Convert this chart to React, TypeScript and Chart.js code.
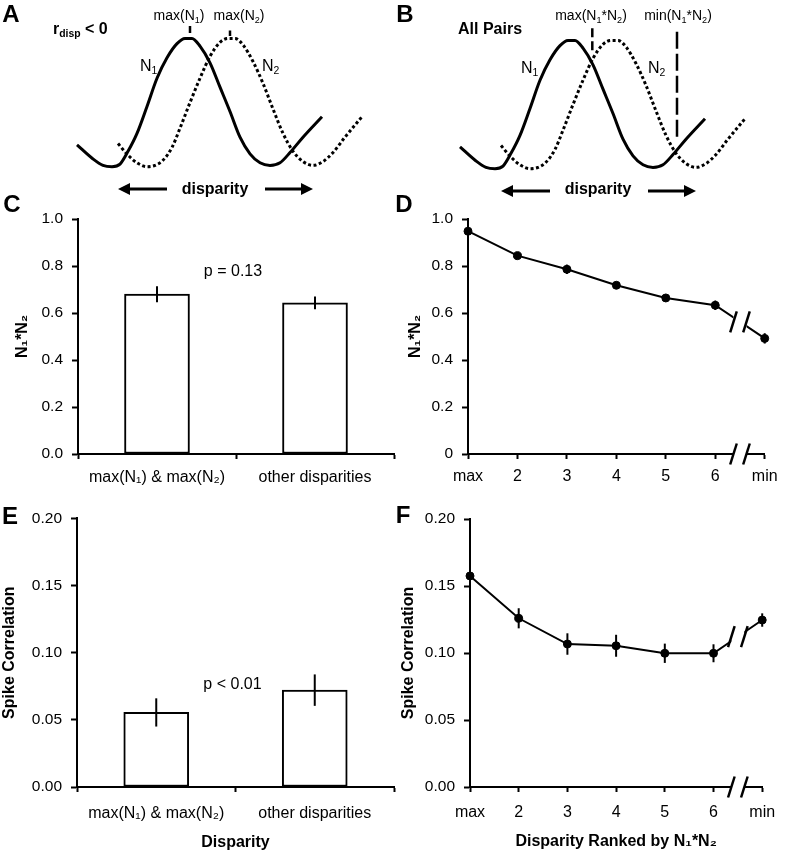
import React, { useEffect, useRef } from 'react';
import { Chart, registerables } from 'chart.js';

Chart.register(...registerables);

const FONT = '"Liberation Sans", Arial, Helvetica, sans-serif';
Chart.defaults.font.family = FONT;
Chart.defaults.color = '#000';

// ---------- Panels A & B: schematic tuning curves (disparity, normalized response) ----------
const n1Disparity = [-1.23, -1.07, -0.97, -0.88, -0.80, -0.72, -0.63, -0.53, -0.43, -0.33, -0.23, -0.15, -0.08, 0.00, 0.10, 0.20, 0.30, 0.40, 0.50, 0.60, 0.70, 0.80, 0.90, 1.03, 1.22];
const n1Response = [0.17, 0.06, 0.01, 0.00, 0.02, 0.12, 0.26, 0.47, 0.69, 0.85, 0.96, 1.00, 1.00, 0.94, 0.81, 0.62, 0.43, 0.23, 0.10, 0.03, 0.01, 0.03, 0.11, 0.23, 0.39];
const n2Disparity = [-0.82, -0.72, -0.63, -0.53, -0.45, -0.37, -0.28, -0.20, -0.10, 0.00, 0.10, 0.20, 0.28, 0.35, 0.43, 0.53, 0.63, 0.73, 0.83, 0.93, 1.03, 1.13, 1.23, 1.33, 1.45, 1.62];
const n2Response = [0.18, 0.09, 0.03, 0.00, 0.01, 0.05, 0.15, 0.30, 0.50, 0.69, 0.86, 0.97, 1.00, 1.00, 0.95, 0.82, 0.65, 0.45, 0.26, 0.12, 0.04, 0.01, 0.04, 0.11, 0.23, 0.39];
// A: tick marks above max(N1), max(N2)
const peakTickX = [-0.10, 0.30];
const peakTickTop = [1.097, 1.062];
const peakTickBottom = [1.043, 1.019];
// B: dashed markers at max(N1*N2), min(N1*N2)
const productMarkX = [0.093, 0.94];
const productMarkTop = [1.095, 1.068];
const productMarkBottom = [0.912, 0.237];
// disparity arrows
const arrowTailX = [-0.33, 0.65];
const arrowTipX = [-0.82, 1.13];
const arrowY = -0.175;

// ---------- Panels C & E ----------
const groupLabels = ['max(N₁) & max(N₂)', 'other disparities'];
const productByGroup = [0.68, 0.643];
const productByGroupErr = [0.034, 0.027];
const corrByGroup = [0.0555, 0.0721];
const corrByGroupErr = [0.0105, 0.0117];

// ---------- Panels D & F ----------
const rankLabels = ['max', '2', '3', '4', '5', '6', 'min'];
const rankIndex = [0, 1, 2, 3, 4, 5, 6];
const productByRank = [0.948, 0.844, 0.786, 0.718, 0.664, 0.633, 0.492];
const productByRankErr = [0.012, 0.012, 0.02, 0.014, 0.012, 0.02, 0.022];
const corrByRank = [0.1575, 0.1259, 0.1067, 0.1054, 0.0998, 0.0998, 0.1246];
const corrByRankErr = [0.004, 0.0075, 0.008, 0.0082, 0.0072, 0.0067, 0.005];
const breakAt = 5.5;

// ---------- plugins ----------
const errorBarsPlugin = {
  id: 'errorBars',
  afterDatasetsDraw(chart: any) {
    const ctx = chart.ctx;
    chart.data.datasets.forEach((ds: any, i: number) => {
      if (!ds.errors) return;
      const meta = chart.getDatasetMeta(i);
      const ys = chart.scales[meta.yAxisID];
      ctx.save();
      ctx.strokeStyle = '#000';
      ctx.lineWidth = 2;
      meta.data.forEach((el: any, j: number) => {
        const raw = ds.data[j];
        const v = typeof raw === 'number' ? raw : raw.y;
        const e = ds.errors[j];
        ctx.beginPath();
        ctx.moveTo(el.x, ys.getPixelForValue(v + e));
        ctx.lineTo(el.x, ys.getPixelForValue(v - e));
        ctx.stroke();
      });
      ctx.restore();
    });
  },
};

function makeBreakPlugin(at: number) {
  return {
    id: 'axisBreak',
    afterDatasetsDraw(chart: any) {
      const ctx = chart.ctx;
      const bx = chart.scales.x.getPixelForValue(at);
      const half = 6.5;
      const ay = chart.chartArea.bottom;
      const pts = chart.getDatasetMeta(0).data;
      let ly: number | null = null;
      for (let i = 0; i < pts.length - 1; i++) {
        if (pts[i].x <= bx && pts[i + 1].x >= bx) {
          ly = pts[i].y + ((pts[i + 1].y - pts[i].y) * (bx - pts[i].x)) / (pts[i + 1].x - pts[i].x);
        }
      }
      ctx.save();
      ctx.fillStyle = '#fff';
      ctx.fillRect(bx - half, ay - 2.5, half * 2, 5);
      if (ly !== null) ctx.fillRect(bx - half, ly - 12, half * 2, 24);
      ctx.strokeStyle = '#000';
      ctx.lineWidth = 2.5;
      const ys = ly !== null ? [ay, ly] : [ay];
      for (const cy of ys) {
        for (const sx of [bx - half, bx + half]) {
          ctx.beginPath();
          ctx.moveTo(sx - 3.3, cy + 10.5);
          ctx.lineTo(sx + 3.3, cy - 10.5);
          ctx.stroke();
        }
      }
      ctx.restore();
    },
  };
}

const arrowsPlugin = {
  id: 'arrows',
  afterDatasetsDraw(chart: any) {
    const ctx = chart.ctx;
    const xs = chart.scales.x;
    const ys = chart.scales.y;
    const py = ys.getPixelForValue(arrowY);
    ctx.save();
    ctx.strokeStyle = '#000';
    ctx.fillStyle = '#000';
    ctx.lineWidth = 3;
    arrowTailX.forEach((t, i) => {
      const x0 = xs.getPixelForValue(t);
      const x1 = xs.getPixelForValue(arrowTipX[i]);
      const dir = Math.sign(x1 - x0);
      const head = 12;
      const hw = 6;
      ctx.beginPath();
      ctx.moveTo(x0, py);
      ctx.lineTo(x1 - dir * head, py);
      ctx.stroke();
      ctx.beginPath();
      ctx.moveTo(x1, py);
      ctx.lineTo(x1 - dir * head, py - hw);
      ctx.lineTo(x1 - dir * head, py + hw);
      ctx.closePath();
      ctx.fill();
    });
    ctx.restore();
  },
};

// ---------- configs ----------
function pts(xs: number[], ys: number[]) {
  return xs.map((x, i) => ({ x, y: ys[i] }));
}

function schematicConfig(panel: 'A' | 'B') {
  const datasets: any[] = [
    { data: pts(n1Disparity, n1Response), borderColor: '#000', borderWidth: 3, pointRadius: 0, cubicInterpolationMode: 'monotone', clip: false },
    { data: pts(n2Disparity, n2Response), borderColor: '#000', borderWidth: 3, borderDash: [3, 2.5], pointRadius: 0, cubicInterpolationMode: 'monotone', clip: false },
  ];
  if (panel === 'A') {
    peakTickX.forEach((x, i) => {
      datasets.push({ data: [{ x, y: peakTickTop[i] }, { x, y: peakTickBottom[i] }], borderColor: '#000', borderWidth: 2.5, pointRadius: 0, tension: 0, clip: false });
    });
  } else {
    const dashes = [[9, 4], [17, 5]];
    productMarkX.forEach((x, i) => {
      datasets.push({ data: [{ x, y: productMarkTop[i] }, { x, y: productMarkBottom[i] }], borderColor: '#000', borderWidth: 2.5, borderDash: dashes[i], pointRadius: 0, tension: 0, clip: false });
    });
  }
  return {
    type: 'line',
    data: { datasets },
    options: {
      responsive: false,
      animation: false,
      events: [],
      layout: { padding: 0 },
      plugins: { legend: { display: false }, tooltip: { enabled: false } },
      scales: {
        x: { type: 'linear', display: false, min: -2, max: 1.93 },
        y: { type: 'linear', display: false, min: -0.26, max: 1.3 },
      },
    },
    plugins: [arrowsPlugin],
  };
}

function yAxis(min: number, max: number, step: number, fmt: (v: number) => string, title: string, titlePad: number, width: number) {
  return {
    type: 'linear',
    min,
    max,
    ticks: { stepSize: step, font: { size: 15.5 }, padding: 9, color: '#000', callback: (v: any) => fmt(Number(v)) },
    grid: { drawOnChartArea: false, drawTicks: true, tickLength: 6, tickWidth: 2, tickColor: '#000' },
    border: { display: true, color: '#000', width: 2 },
    title: { display: true, text: title, font: { size: 16, weight: 'bold' }, color: '#000', padding: { top: titlePad, bottom: 0 } },
    afterFit: (s: any) => {
      s.width = width;
    },
  };
}

function xTitle(text: string | null, pad: number) {
  return text
    ? { display: true, text, font: { size: 16, weight: 'bold' }, color: '#000', padding: { top: 0, bottom: pad } }
    : { display: false };
}

function barConfig(values: number[], errs: number[], y: any, xPad: number, xHeight: number, title: string | null, titlePad: number, padding: any) {
  return {
    type: 'bar',
    data: {
      labels: groupLabels,
      datasets: [{ data: values, errors: errs, backgroundColor: '#fff', borderColor: '#000', borderWidth: 2, borderSkipped: false, barThickness: 65 }],
    },
    options: {
      responsive: false,
      animation: false,
      events: [],
      layout: { padding },
      plugins: { legend: { display: false }, tooltip: { enabled: false } },
      scales: {
        x: {
          type: 'category',
          offset: true,
          grid: { offset: true, drawOnChartArea: false, drawTicks: true, tickLength: 5, tickWidth: 2, tickColor: '#000' },
          border: { display: true, color: '#000', width: 2 },
          ticks: { font: { size: 16 }, padding: xPad, color: '#000', maxRotation: 0, autoSkip: false },
          title: xTitle(title, titlePad),
          afterFit: (s: any) => {
            s.height = xHeight;
          },
        },
        y,
      },
    },
    plugins: [errorBarsPlugin],
  };
}

function rankConfig(values: number[], errs: number[], y: any, xPad: number, xHeight: number, title: string | null, titlePad: number, padding: any) {
  return {
    type: 'line',
    data: {
      datasets: [
        {
          data: pts(rankIndex, values),
          errors: errs,
          borderColor: '#000',
          borderWidth: 2,
          pointRadius: 4,
          pointBorderWidth: 1,
          pointBackgroundColor: '#000',
          pointBorderColor: '#000',
          tension: 0,
          clip: false,
        },
      ],
    },
    options: {
      responsive: false,
      animation: false,
      events: [],
      layout: { padding },
      plugins: { legend: { display: false }, tooltip: { enabled: false } },
      scales: {
        x: {
          type: 'linear',
          min: 0,
          max: 6,
          grid: { drawOnChartArea: false, drawTicks: true, tickLength: 5, tickWidth: 2, tickColor: '#000' },
          border: { display: true, color: '#000', width: 2 },
          ticks: { stepSize: 1, font: { size: 16 }, padding: xPad, color: '#000', maxRotation: 0, autoSkip: false, callback: (v: any) => rankLabels[Number(v)] ?? '' },
          title: xTitle(title, titlePad),
          afterFit: (s: any) => {
            s.height = xHeight;
          },
        },
        y,
      },
    },
    plugins: [errorBarsPlugin, makeBreakPlugin(breakAt)],
  };
}

const fmt1 = (v: number) => v.toFixed(1);
const fmt1z = (v: number) => (v === 0 ? '0' : v.toFixed(1));
const fmt2 = (v: number) => v.toFixed(2);

const makeA = () => schematicConfig('A');
const makeB = () => schematicConfig('B');
const makeC = () =>
  barConfig(productByGroup, productByGroupErr, yAxis(0, 1, 0.2, fmt1, 'N₁*N₂', 13.4, 78), 9.4, 46, null, 0, { top: 24, right: 2, left: 0, bottom: 0 });
const makeD = () =>
  rankConfig(productByRank, productByRankErr, yAxis(0, 1, 0.2, fmt1z, 'N₁*N₂', 13.4, 75), 8.4, 46, null, 0, { top: 24, right: 20, left: 0, bottom: 0 });
const makeE = () =>
  barConfig(corrByGroup, corrByGroupErr, yAxis(0, 0.2, 0.05, fmt2, 'Spike Correlation', 0.4, 77), 12.4, 66, 'Disparity', 0.4, { top: 18, right: 2, left: 0, bottom: 0 });
const makeF = () =>
  rankConfig(corrByRank, corrByRankErr, yAxis(0, 0.2, 0.05, fmt2, 'Spike Correlation', 5.9, 77), 10.9, 66, 'Disparity Ranked by N₁*N₂', 1.4, { top: 19, right: 21, left: 0, bottom: 0 });

function ChartBox({ left, top, width, height, make }: any) {
  const ref = useRef<HTMLCanvasElement>(null);
  useEffect(() => {
    const chart = new Chart(ref.current as HTMLCanvasElement, make() as any);
    return () => chart.destroy();
  }, []);
  return (
    <div style={{ position: 'absolute', left, top, width, height }}>
      <canvas ref={ref} width={width} height={height} style={{ width, height, display: 'block' }} />
    </div>
  );
}

function Label({ x, y, size, bold, anchor = 'center', children }: any) {
  return (
    <div
      style={{
        position: 'absolute',
        left: x,
        top: y,
        transform: anchor === 'center' ? 'translate(-50%, -50%)' : 'translate(0, -50%)',
        fontFamily: FONT,
        fontSize: size,
        fontWeight: bold ? 'bold' : 'normal',
        lineHeight: 1,
        whiteSpace: 'nowrap',
        color: '#000',
      }}
    >
      {children}
    </div>
  );
}

const Sub = ({ children }: any) => <span style={{ fontSize: '0.65em', position: 'relative', top: '0.3em' }}>{children}</span>;

export default function App() {
  return (
    <div style={{ position: 'absolute', left: 0, top: 0, width: 786, height: 853, background: '#fff', overflow: 'hidden' }}>
      <ChartBox left={0} top={0} width={393} height={200} make={makeA} />
      <ChartBox left={383} top={2} width={393} height={200} make={makeB} />
      <ChartBox left={0} top={195} width={396} height={305} make={makeC} />
      <ChartBox left={393} top={195} width={393} height={305} make={makeD} />
      <ChartBox left={0} top={500} width={396} height={353} make={makeE} />
      <ChartBox left={393} top={500} width={393} height={353} make={makeF} />

      {/* panel letters */}
      <Label x={11} y={13.5} size={24} bold>A</Label>
      <Label x={405} y={13.5} size={24} bold>B</Label>
      <Label x={12} y={204} size={24} bold>C</Label>
      <Label x={404} y={204} size={24} bold>D</Label>
      <Label x={10} y={516} size={24} bold>E</Label>
      <Label x={403} y={515} size={24} bold>F</Label>

      {/* panel A annotations */}
      <Label x={53} y={28.5} size={16} bold anchor="left">
        r<Sub>disp</Sub> &lt; 0
      </Label>
      <Label x={179} y={15} size={14}>
        max(N<Sub>1</Sub>)
      </Label>
      <Label x={239} y={15} size={14}>
        max(N<Sub>2</Sub>)
      </Label>
      <Label x={140} y={66} size={16} anchor="left">
        N<Sub>1</Sub>
      </Label>
      <Label x={262} y={66} size={16} anchor="left">
        N<Sub>2</Sub>
      </Label>
      <Label x={215} y={189} size={16} bold>disparity</Label>

      {/* panel B annotations */}
      <Label x={458} y={28.8} size={16} bold anchor="left">All Pairs</Label>
      <Label x={591} y={15} size={14}>
        max(N<Sub>1</Sub>*N<Sub>2</Sub>)
      </Label>
      <Label x={678} y={15} size={14}>
        min(N<Sub>1</Sub>*N<Sub>2</Sub>)
      </Label>
      <Label x={521} y={68} size={16} anchor="left">
        N<Sub>1</Sub>
      </Label>
      <Label x={648} y={68} size={16} anchor="left">
        N<Sub>2</Sub>
      </Label>
      <Label x={598} y={189} size={16} bold>disparity</Label>

      {/* p-values */}
      <Label x={233} y={271} size={16}>p = 0.13</Label>
      <Label x={232.5} y={684} size={16}>p &lt; 0.01</Label>
    </div>
  );
}
